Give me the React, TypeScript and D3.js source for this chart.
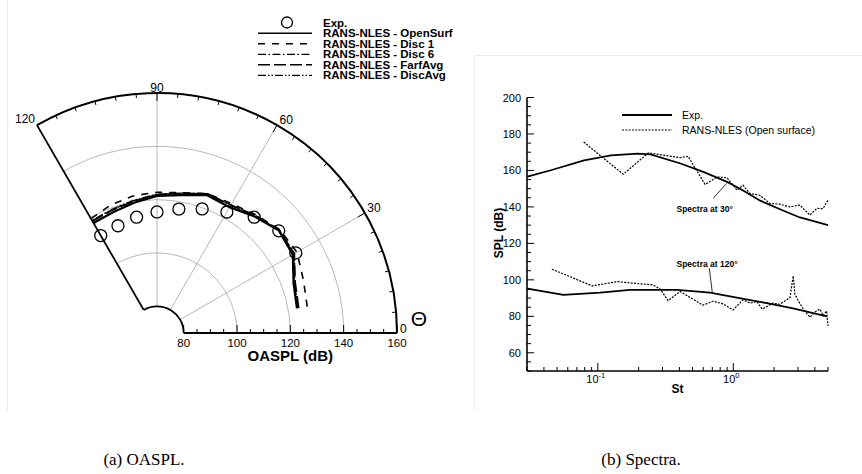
import React from "react";
import * as d3 from "d3";

// ---------- OASPL directivity (polar) ----------
const lineAngles = [10, 20, 30, 40, 50, 60, 70, 80, 90, 100, 110, 120];
const openSurf = [123.3, 124.5, 128.8, 129.7, 127.0, 124.5, 125.0, 122.5, 121.4, 119.6, 118.2, 117.6];
const disc1 = [127.2, 128.4, 130.6, 130.2, 127.8, 126.0, 125.6, 123.4, 122.8, 122.2, 121.0, 119.5];
const disc6 = [123.6, 124.8, 129.2, 129.8, 127.4, 125.2, 125.4, 123.0, 121.8, 120.4, 119.2, 118.6];
const farfAvg = [124.0, 125.2, 129.4, 130.0, 127.6, 125.4, 125.6, 123.2, 121.9, 120.2, 119.0, 118.4];
const discAvg = [123.8, 125.0, 129.6, 129.9, 127.5, 125.5, 125.5, 123.3, 122.1, 120.6, 119.4, 118.8];

const expAngles = [30, 40, 50, 60, 70, 80, 90, 100, 110, 120];
const expOaspl = [130.1, 129.6, 126.7, 122.4, 119.5, 117.2, 115.4, 114.1, 112.8, 112.2];

const radialTickLabels = [80, 100, 120, 140, 160];
const angleTickLabels = [0, 30, 60, 90, 120];
const gridLevels = [100, 120, 140];
const gridAngles = [30, 60, 90];

const polarSeries = [
  { name: "RANS-NLES - OpenSurf", values: openSurf, dash: "", width: 2.2 },
  { name: "RANS-NLES - Disc 1", values: disc1, dash: "7,7", width: 1.6 },
  { name: "RANS-NLES - Disc 6", values: disc6, dash: "8,2.5,1.5,2.5", width: 1.2 },
  { name: "RANS-NLES - FarfAvg", values: farfAvg, dash: "12,4", width: 1.5 },
  { name: "RANS-NLES - DiscAvg", values: discAvg, dash: "8,2,1.5,2,1.5,2", width: 1.2 },
];

// ---------- Spectra ([St, SPL dB]) ----------
const exp30: [number, number][] = [
  [0.0302, 156.6], [0.045, 160.1], [0.079, 165.5], [0.125, 168.3], [0.197, 169.2], [0.245, 168.8],
  [0.408, 163.8], [0.6, 159.2], [0.9, 153.7], [1.19, 148.9], [1.58, 143.4], [2.35, 137.9],
  [3.1, 134.2], [3.68, 132.7], [5.0, 130.0],
];
const rans30: [number, number][] = [
  [0.0786, 175.6], [0.154, 157.9], [0.236, 169.6], [0.406, 167.0], [0.464, 167.7], [0.619, 152.3],
  [0.759, 156.4], [0.899, 156.0], [1.064, 149.2], [1.18, 151.9], [1.33, 147.3], [1.57, 146.4],
  [1.86, 141.9], [2.2, 141.5], [2.61, 140.0], [3.1, 141.0], [3.67, 135.5], [4.14, 139.2],
  [4.59, 139.0], [5.0, 143.7],
];
const exp120: [number, number][] = [
  [0.0302, 95.2], [0.0557, 91.7], [0.104, 93.0], [0.173, 94.5], [0.385, 94.5], [0.673, 93.0],
  [1.06, 90.3], [1.77, 87.2], [2.76, 84.4], [4.91, 80.0],
];
const rans120: [number, number][] = [
  [0.0458, 105.8], [0.0908, 96.7], [0.139, 99.0], [0.256, 97.2], [0.289, 94.9], [0.33, 88.6],
  [0.405, 93.6], [0.597, 86.1], [0.708, 88.3], [0.839, 86.8], [0.995, 83.5], [1.18, 89.0],
  [1.33, 87.2], [1.49, 88.1], [1.63, 84.0], [1.96, 87.2], [2.21, 86.6], [2.62, 90.3],
  [2.77, 102.2], [2.85, 92.0], [3.02, 88.5], [3.28, 84.0], [3.68, 79.5], [4.0, 82.3],
  [4.35, 84.0], [4.6, 80.3], [4.88, 83.0], [5.0, 74.7],
];
const splTickLabels = [60, 80, 100, 120, 140, 160, 180, 200];
const stDecades = [0.1, 1];

const FONT = "'Liberation Sans', Arial, Helvetica, sans-serif";
const SERIF = "'Liberation Serif', 'DejaVu Serif', serif";

// polar geometry
const CX = 157;
const CY = 333;
const rScale = d3.scaleLinear().domain([70, 160]).range([0, 240]);
const toA = (t: number) => ((90 - t) * Math.PI) / 180;
const pt = (t: number, v: number): [number, number] => {
  const [x, y] = d3.pointRadial(toA(t), rScale(v));
  return [CX + x, CY + y];
};
const arcAt = (v: number) => {
  const p = d3.path();
  const r = rScale(v);
  p.moveTo(CX + r, CY);
  p.arc(CX, CY, r, 0, (-2 * Math.PI) / 3, true);
  return p.toString();
};

function Polar() {
  const radial = (vals: number[]) =>
    d3
      .lineRadial<number>()
      .angle((_, i) => toA(lineAngles[i]))
      .radius((v) => rScale(v))(vals) as string;

  const rMin = 80;
  const rMax = 160;
  const arcTicks = d3.range(0, 121, 5);
  const axisTicks = d3.range(80, 161, 5);
  const labelPos = (t: number) => {
    const [x, y] = pt(t, rMax);
    if (t === 0) return { x: x + 3, y: y - 4, anchor: "start" };
    if (t === 90) return { x, y: y - 5.5, anchor: "middle" };
    if (t === 120) return { x: x - 2, y: y - 6, anchor: "end" };
    return { x: x + 2.5, y: y - 5.5, anchor: "start" };
  };

  return (
    <g fontFamily={FONT}>
      {/* grid */}
      {gridLevels.map((v) => (
        <path key={"g" + v} d={arcAt(v)} fill="none" stroke="#9a9a9a" strokeWidth={0.7} />
      ))}
      {gridAngles.map((t) => {
        const [x1, y1] = pt(t, rMin);
        const [x2, y2] = pt(t, rMax);
        return <line key={"a" + t} x1={x1} y1={y1} x2={x2} y2={y2} stroke="#9a9a9a" strokeWidth={0.7} />;
      })}
      {/* frame */}
      <path d={arcAt(rMax)} fill="none" stroke="#000" strokeWidth={2} />
      <path d={arcAt(rMin)} fill="none" stroke="#000" strokeWidth={1.8} />
      {(() => {
        const [x1, y1] = pt(120, rMin);
        const [x2, y2] = pt(120, rMax);
        return <line x1={x1} y1={y1} x2={x2} y2={y2} stroke="#000" strokeWidth={1.8} />;
      })()}
      <line x1={CX + rScale(rMin)} y1={CY} x2={CX + rScale(rMax)} y2={CY} stroke="#000" strokeWidth={1.8} />
      {arcTicks.map((t) => {
        const len = t % 30 === 0 ? 8 : 4;
        const [x1, y1] = pt(t, rMax);
        const [x2, y2] = pt(t, rScale.invert(rScale(rMax) - len));
        return <line key={"at" + t} x1={x1} y1={y1} x2={x2} y2={y2} stroke="#000" strokeWidth={1} />;
      })}
      {axisTicks.map((v) => {
        const len = v % 20 === 0 ? 8 : 4;
        const x = CX + rScale(v);
        return <line key={"rt" + v} x1={x} y1={CY} x2={x} y2={CY - len} stroke="#000" strokeWidth={1} />;
      })}
      {radialTickLabels.map((v) => (
        <text key={"rl" + v} x={CX + rScale(v)} y={CY + 9.5} fontSize={11.5} textAnchor="middle" dominantBaseline="central">
          {v}
        </text>
      ))}
      {angleTickLabels.map((t) => {
        const p = labelPos(t);
        return (
          <text key={"al" + t} x={p.x} y={p.y} fontSize={12} textAnchor={p.anchor as any} dominantBaseline="central">
            {t}
          </text>
        );
      })}
      <text x={CX + rScale(120)} y={361} fontSize={15} fontWeight="bold" textAnchor="middle">
        OASPL (dB)
      </text>
      <text x={419} y={318} fontSize={21} textAnchor="middle" dominantBaseline="central">
        Θ
      </text>

      {/* data */}
      {polarSeries.map((s) => (
        <path
          key={s.name}
          d={radial(s.values)}
          transform={`translate(${CX},${CY})`}
          fill="none"
          stroke="#000"
          strokeWidth={s.width}
          strokeDasharray={s.dash || undefined}
        />
      ))}
      {expAngles.map((t, i) => {
        const [x, y] = pt(t, expOaspl[i]);
        return <circle key={"e" + t} cx={x} cy={y} r={6} fill="none" stroke="#000" strokeWidth={1.3} />;
      })}

      {/* legend */}
      <circle cx={287} cy={22.5} r={5.5} fill="none" stroke="#000" strokeWidth={1.3} />
      <text x={323} y={22.5} fontSize={11.5} fontWeight="bold" dominantBaseline="central">
        Exp.
      </text>
      {polarSeries.map((s, i) => {
        const y = 33.3 + i * 10.5;
        return (
          <g key={"lg" + s.name}>
            <line x1={258} x2={312} y1={y} y2={y} stroke="#000" strokeWidth={Math.min(s.width, 1.6)} strokeDasharray={s.dash || undefined} />
            <text x={323} y={y} fontSize={11.5} fontWeight="bold" dominantBaseline="central">
              {s.name}
            </text>
          </g>
        );
      })}
    </g>
  );
}

function Spectra() {
  const x = d3.scaleLog().domain([0.03, 5]).range([527, 828]);
  const y = d3.scaleLinear().domain([50, 200]).range([371, 97.5]);
  const line = d3
    .line<[number, number]>()
    .x((d) => x(d[0]))
    .y((d) => y(d[1]));

  const yTicks = d3.range(50, 201, 5);
  const xTicks: number[] = [];
  [0.01, 0.1, 1].forEach((dec) => {
    for (let m = 1; m <= 9; m++) {
      const v = dec * m;
      if (v >= 0.03 && v <= 5.0001) xTicks.push(v);
    }
  });
  const x0 = x.range()[0];
  const x1 = x.range()[1];
  const yb = y(50);
  const yt = y(200);

  return (
    <g fontFamily={FONT}>
      <path d={line(exp30) as string} fill="none" stroke="#000" strokeWidth={1.8} />
      <path d={line(exp120) as string} fill="none" stroke="#000" strokeWidth={1.8} />
      <path d={line(rans30) as string} fill="none" stroke="#000" strokeWidth={1.2} strokeDasharray="2,1.3" />
      <path d={line(rans120) as string} fill="none" stroke="#000" strokeWidth={1.2} strokeDasharray="2,1.3" />

      {/* axes */}
      <line x1={x0} y1={yt} x2={x0} y2={yb} stroke="#000" strokeWidth={1.6} />
      <line x1={x0} y1={yb} x2={x1} y2={yb} stroke="#000" strokeWidth={1.6} />
      {yTicks.map((v) => {
        const len = v % 20 === 0 ? 7 : 4;
        return <line key={"yt" + v} x1={x0} x2={x0 + len} y1={y(v)} y2={y(v)} stroke="#000" strokeWidth={1} />;
      })}
      {splTickLabels.map((v) => (
        <text key={"yl" + v} x={521} y={y(v)} fontSize={11} textAnchor="end" dominantBaseline="central">
          {v}
        </text>
      ))}
      {xTicks.map((v) => {
        const major = stDecades.some((d) => Math.abs(d - v) < 1e-9);
        const len = major ? 8 : 4;
        return <line key={"xt" + v} x1={x(v)} x2={x(v)} y1={yb} y2={yb - len} stroke="#000" strokeWidth={1} />;
      })}
      {stDecades.map((d) => (
        <text key={"xl" + d} x={x(d) - 2} y={383} fontSize={11} textAnchor="middle">
          10
          <tspan dy={-5} fontSize={7.5}>
            {Math.round(Math.log10(d))}
          </tspan>
        </text>
      ))}
      <text x={(x0 + x1) / 2} y={393} fontSize={12} fontWeight="bold" textAnchor="middle">
        St
      </text>
      <text transform={`translate(503,233) rotate(-90)`} fontSize={12} fontWeight="bold" textAnchor="middle">
        SPL (dB)
      </text>

      {/* legend */}
      <line x1={622} x2={672} y1={115} y2={115} stroke="#000" strokeWidth={1.8} />
      <text x={682} y={115} fontSize={10.5} dominantBaseline="central">
        Exp.
      </text>
      <line x1={622} x2={672} y1={130} y2={130} stroke="#000" strokeWidth={1.2} strokeDasharray="2,1.3" />
      <text x={682} y={130} fontSize={10.5} dominantBaseline="central">
        RANS-NLES (Open surface)
      </text>

      {/* annotations */}
      <line x1={713.3} y1={198.3} x2={726.7} y2={183.3} stroke="#000" strokeWidth={0.8} />
      <text x={676.5} y={208.5} fontSize={8.5} fontWeight="bold" dominantBaseline="central">
        Spectra at 30°
      </text>
      <line x1={709.3} y1={268.3} x2={712.3} y2={292.7} stroke="#000" strokeWidth={0.8} />
      <text x={676.5} y={263.5} fontSize={8.5} fontWeight="bold" dominantBaseline="central">
        Spectra at 120°
      </text>
    </g>
  );
}

export default function App() {
  return (
    <svg
      width={862}
      height={474}
      viewBox="0 0 862 474"
      style={{ position: "absolute", left: 0, top: 0, background: "#fff" }}
    >
      <rect x={0} y={0} width={862} height={474} fill="#fff" />
      {/* panel edges */}
      <line x1={7.7} y1={0} x2={7.7} y2={411} stroke="#ebebeb" strokeWidth={1} />
      <line x1={474.5} y1={55} x2={474.5} y2={411} stroke="#ebebeb" strokeWidth={1} />
      <line x1={474.5} y1={55.5} x2={862} y2={55.5} stroke="#ebebeb" strokeWidth={1} />
      <Polar />
      <Spectra />
      <text x={144} y={465} fontSize={17} fontFamily={SERIF} textAnchor="middle">
        (a) OASPL.
      </text>
      <text x={641} y={465} fontSize={17} fontFamily={SERIF} textAnchor="middle">
        (b) Spectra.
      </text>
    </svg>
  );
}
